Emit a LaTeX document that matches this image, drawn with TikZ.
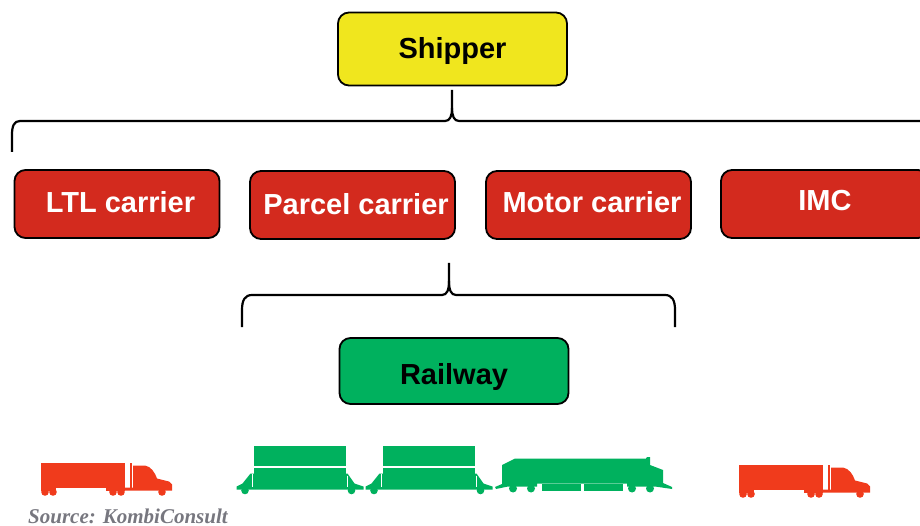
\documentclass[tikz,border=0pt]{standalone}
\usepackage{fontspec}
\usepackage{xcolor}
\setmainfont{Liberation Sans}
\newfontfamily\sourcefont{Liberation Serif}
\definecolor{boxred}{HTML}{D32A1E}
\definecolor{boxyellow}{HTML}{F0E61E}
\definecolor{boxgreen}{HTML}{00B15E}
\definecolor{truckred}{HTML}{F03B1C}
\definecolor{sourcegray}{HTML}{77777F}
\tikzset{
  truck/.pic={
    \fill[truckred] (0,0) rectangle (84,25);
    \fill[truckred] (0,25) rectangle (15,28);
    \fill[truckred] (65,25) rectangle (84,28);
    \fill[truckred] (89,0) rectangle (91,25);
    \fill[truckred] (92,3) -- (104,3) .. controls (110,4) and (114,10) .. (116,16)
      -- (128,19) -- (131,22) -- (131,28) -- (84,28) -- (84,25) -- (92,25) -- cycle;
    \foreach \wheelx in {4,12,72,80,121}
      \fill[truckred] (\wheelx,29.5) circle (3.8);
  },
  flatcar/.pic={
    \fill[boxgreen] (0,0) rectangle (92,20.5);
    \fill[boxgreen] (0,22.5) rectangle (92,43);
    \fill[boxgreen] (0,28) -- (-3,28) -- (-11,38) -- (-17,41) -- (-17,44) -- (110,44) -- (110,41) -- (101,38) -- (94,28) -- (92,28) -- cycle;
    \fill[boxgreen] (-8.5,45) circle (3.8);
    \fill[boxgreen] (98,45) circle (3.8);
    \draw[white,line width=0.5] (-1,28) -- (-1,41);
    \draw[white,line width=0.5] (94,30) -- (94,41);
  }
}
\begin{document}
\begin{tikzpicture}[x=1pt,y=-1pt,node distance=235pt,thick]
    \tikzstyle{main node} = [draw=black, line width=1.8pt, rounded corners=11pt, text depth=0pt, font=\fontsize{29}{29}\selectfont\bfseries]
    \tikzstyle{carrier} = [main node, fill=boxred, text=white, minimum width=205pt, minimum height=68pt]
    \tikzstyle{line} = [draw=black, line width=2.2pt]
    \useasboundingbox (0,0) rectangle (920,526);
    %nodes
    \node[main node, fill=boxyellow, minimum width=229pt, minimum height=73pt, text height=20pt] (shipper) at (452.5,49) {Shipper};
    \node[carrier, text height=18pt] (ltl) at (117,204) {\hspace*{7pt}LTL carrier};
    \node[carrier, text height=20pt] (parcel) [right of=ltl, xshift=0.5pt, yshift=-1pt] {\hspace*{7pt}Parcel carrier};
    \node[carrier, text height=16pt] (motor) [right of=parcel, xshift=1pt] {\hspace*{7pt}Motor carrier};
    \node[carrier, minimum width=208pt, text height=14pt] (imc) [right of=motor, xshift=1.5pt, yshift=1pt] {IMC};
    \node[main node, fill=boxgreen, minimum width=229pt, minimum height=66pt, text height=26pt] (railway) at (454,371) {Railway};
    \node[font=\fontsize{21}{21}\selectfont\sourcefont\bfseries\itshape, text=sourcegray, inner sep=0pt] (source) at (128,516) {Source: KombiConsult};
    \coordinate (topstem) at (452,90);
    \coordinate (topleft) at (12,152);
    \coordinate (topright) at (935,121);
    \coordinate (lowstem) at (449,263);
    \coordinate (lowleft) at (242,327);
    \coordinate (lowright) at (675,327);
    %lines
    \draw[line] (topstem) -- (452,108) .. controls (452,116) and (450,121) .. (445,121) -- (20,121)
      .. controls (14,121) and (12,126) .. (12,135) -- (topleft);
    \draw[line] (452,108) .. controls (452,116) and (454,121) .. (459,121) -- (topright);
    \draw[line] (lowstem) -- (449,281) .. controls (449,290) and (447,295) .. (442,295) -- (252,295)
      .. controls (245,295) and (242,300) .. (242,310) -- (lowleft);
    \draw[line] (449,281) .. controls (449,290) and (451,295) .. (456,295) -- (665,295)
      .. controls (672,295) and (675,300) .. (675,310) -- (lowright);
    %vehicles
    \pic at (41,462.5) {truck};
    \pic at (739,464.5) {truck};
    \pic at (253.5,445.5) {flatcar};
    \pic at (382.5,445.5) {flatcar};
    \fill[boxgreen] (502,465) -- (515,458.5) -- (646,458.5) -- (647,457) -- (650,457) -- (650,465)
      -- (663,470) -- (663,483) -- (672,487) -- (672,489) -- (655,486.5) -- (627,486.5) -- (627,483.5)
      -- (537,483.5) -- (537,486.5) -- (508,486.5) -- (496,489) -- (495,487) -- (502,484) -- cycle;
    \fill[boxgreen] (541.5,484) rectangle (580.5,490.5);
    \fill[boxgreen] (584,484) rectangle (622.5,490.5);
    \foreach \wheelx in {513,531,632,650}
      \fill[boxgreen] (\wheelx,488.5) circle (4);
\end{tikzpicture}
\end{document}
